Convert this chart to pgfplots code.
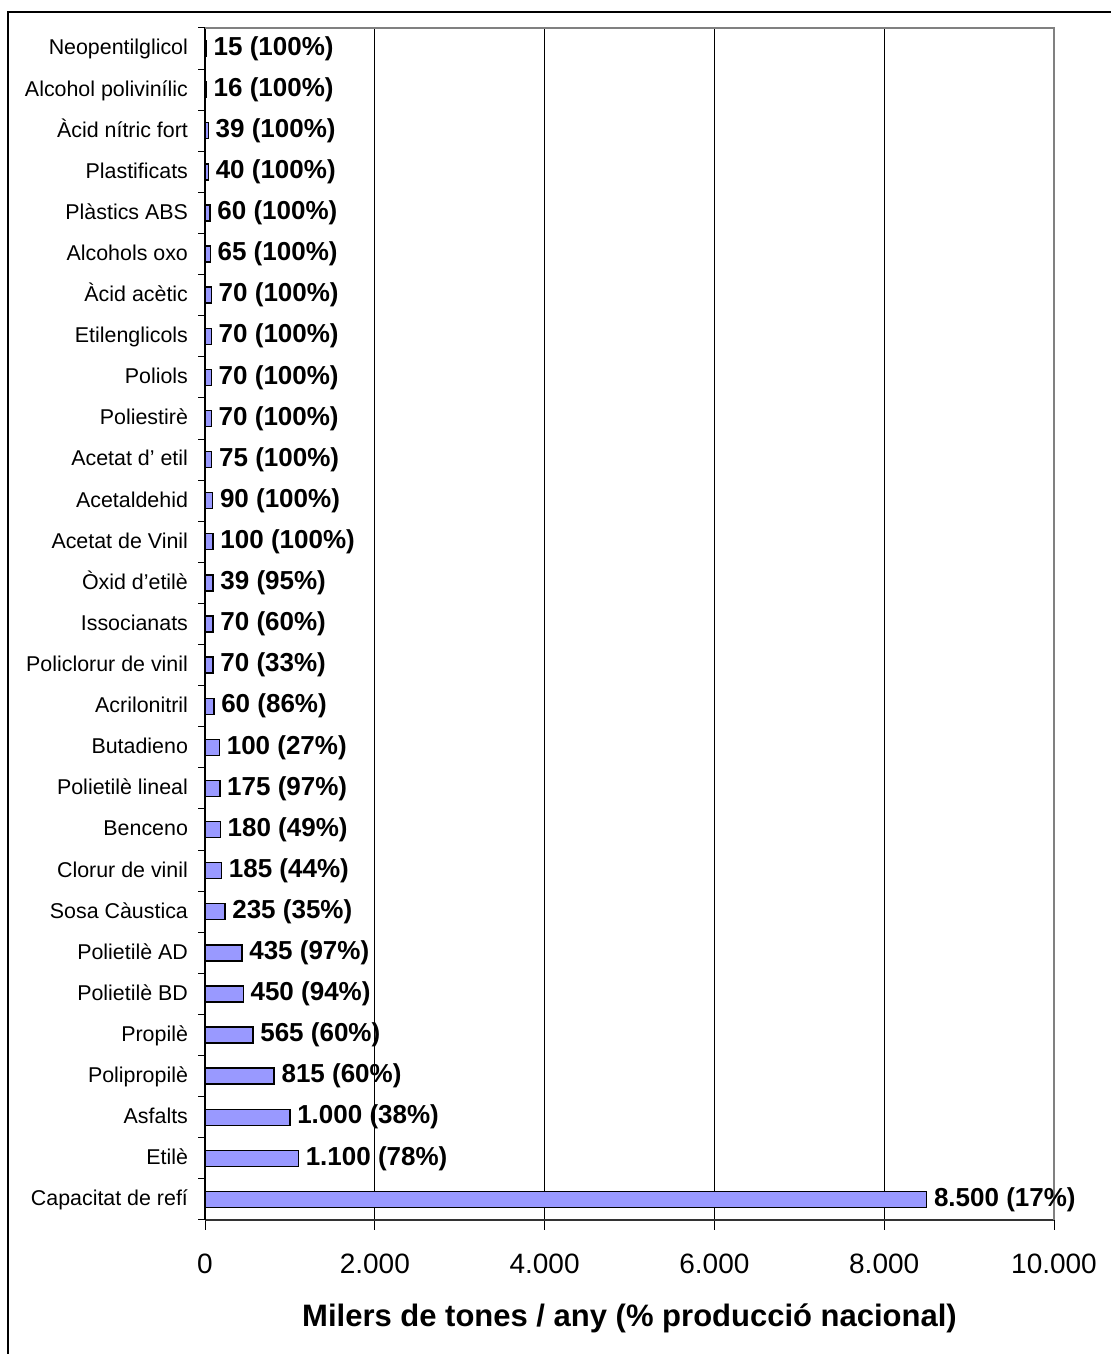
\documentclass[border=0pt]{standalone}
\usepackage{fontspec}
\setmainfont{Liberation Sans}
\usepackage{pgfplots}
\pgfplotsset{compat=1.18}
\definecolor{barfill}{RGB}{153,153,255}
\definecolor{frgray}{RGB}{128,128,128}
\begin{document}
\begin{tikzpicture}
\path[use as bounding box] (0,0) rectangle (555.5pt,677pt);
\draw[black, line width=0.75pt] (4pt,-20pt) -- (4pt,671pt) -- (580pt,671pt);
\begin{axis}[
  at={(102.5pt,67pt)}, anchor=south west,
  scale only axis, width=424.5pt, height=596pt,
  xbar, bar width=8pt,
  xmin=0, xmax=10000, ymin=-0.5, ymax=28.5,
  scaled x ticks=false,
  axis lines*=left,
  x axis line style={-, line width=0.9pt, black!80},
  y axis line style={-, line width=0.6pt, black},
  clip=false,
  tick align=outside,
  major tick length=5pt,
  minor tick length=3.5pt,
  xtick={0,2000,4000,6000,8000,10000},
  xticklabels={0,2.000,4.000,6.000,8.000,10.000},
  xtick style={black, line width=0.5pt},
  ytick={0,...,28},
  yticklabels={Capacitat de refí, Etilè, Asfalts, Polipropilè, Propilè, Polietilè BD, Polietilè AD, Sosa Càustica, Clorur de vinil, Benceno, Polietilè lineal, Butadieno, Acrilonitril, Policlorur de vinil, Issocianats, Òxid d'etilè, Acetat de Vinil, Acetaldehid, Acetat d' etil, Poliestirè, Poliols, Etilenglicols, Àcid acètic, Alcohols oxo, Plàstics ABS, Plastificats, Àcid nítric fort, Alcohol polivinílic, Neopentilglicol},
  every major y tick/.append style={draw=none},
  minor ytick={-0.5,0.5,...,28.5},
  every minor y tick/.append style={black, line width=0.5pt},
  xmajorgrids=true,
  major grid style={black, line width=0.5pt},
  yticklabel style={font=\fontsize{10.7}{12}\selectfont, anchor=base east, yshift=-3.2pt},
  xticklabel style={font=\fontsize{14}{14}\selectfont, anchor=base, yshift=-21.5pt},
  /pgf/number format/assume math mode=true,
  xlabel={Milers de tones / any (\% producció nacional)},
  xlabel style={font=\bfseries\fontsize{15.5}{16}\selectfont, at={(rel axis cs:0.5,0)}, anchor=base, yshift=-53pt},
  nodes near coords,
  point meta=explicit symbolic,
  nodes near coords style={font=\bfseries\fontsize{13}{13}\selectfont, black, anchor=west},
]
\addplot[fill=barfill, draw=black, line width=0.7pt] coordinates {
(8500,0) [8.500 (17\%)]
(1100,1) [1.100 (78\%)]
(1000,2) [1.000 (38\%)]
(815,3) [815 (60\%)]
(565,4) [565 (60\%)]
(450,5) [450 (94\%)]
(435,6) [435 (97\%)]
(235,7) [235 (35\%)]
(195,8) [185 (44\%)]
(180,9) [180 (49\%)]
(175,10) [175 (97\%)]
(170,11) [100 (27\%)]
(105,12) [60 (86\%)]
(95,13) [70 (33\%)]
(95,14) [70 (60\%)]
(95,15) [39 (95\%)]
(95,16) [100 (100\%)]
(90,17) [90 (100\%)]
(80,18) [75 (100\%)]
(75,19) [70 (100\%)]
(75,20) [70 (100\%)]
(75,21) [70 (100\%)]
(75,22) [70 (100\%)]
(62,23) [65 (100\%)]
(60,24) [60 (100\%)]
(40,25) [40 (100\%)]
(39,26) [39 (100\%)]
(16,27) [16 (100\%)]
(15,28) [15 (100\%)]
};
\draw[frgray, line width=1pt] (rel axis cs:0,1) -- (rel axis cs:1,1) -- (rel axis cs:1,0);
\end{axis}
\end{tikzpicture}
\end{document}
